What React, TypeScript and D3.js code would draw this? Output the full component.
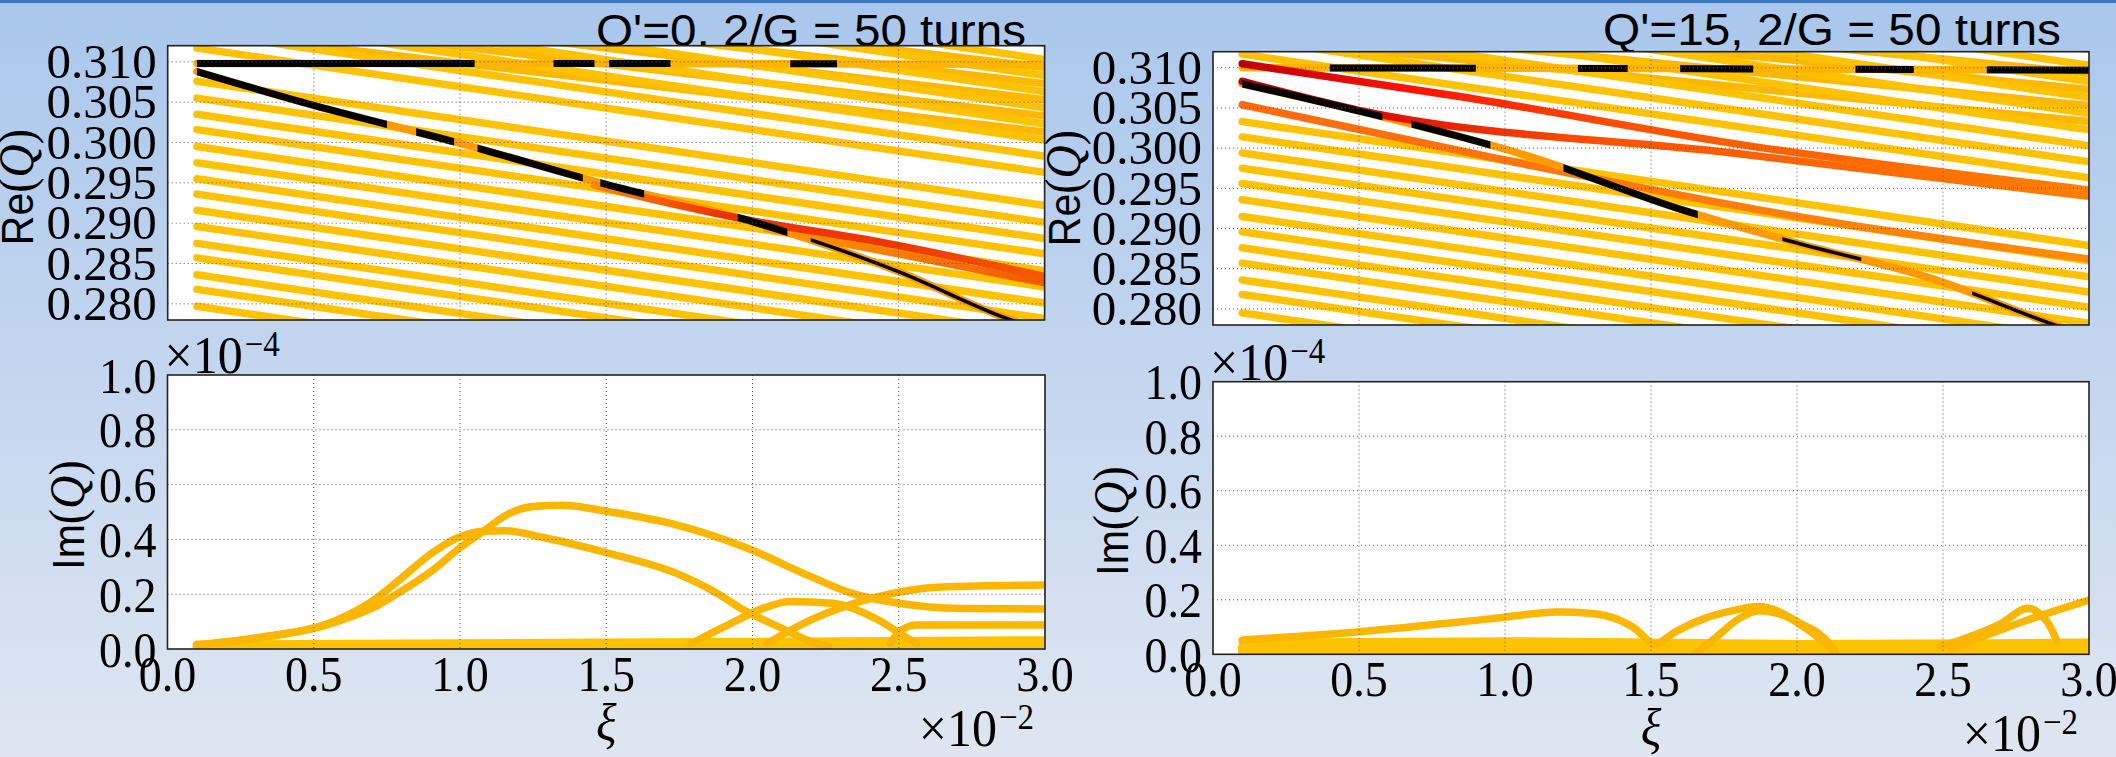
import React, { useEffect, useRef } from 'react';
import * as d3 from 'd3';

const W = 2116;
const H = 757;

// ---------- ticks ----------
const xiTicks = [0, 0.005, 0.01, 0.015, 0.02, 0.025, 0.03];
const reTicks = [0.28, 0.285, 0.29, 0.295, 0.3, 0.305, 0.31];
const imTicks = [0, 0.2, 0.4, 0.6, 0.8, 1.0];

const titleLeft = "Q'=0, 2/G = 50 turns";
const titleRight = "Q'=15, 2/G = 50 turns";

// ---------- top-left: Re(Q), Q'=0 ----------
const xiStartEnd = [0.001, 0.03];
const tlBandStart = [0.3277, 0.3257, 0.3237, 0.3217, 0.3197, 0.3177, 0.3157, 0.3137, 0.3117, 0.3076, 0.3055, 0.3035, 0.3016, 0.2995, 0.2975, 0.2955, 0.2936, 0.2916, 0.2896, 0.2875, 0.2857, 0.2836, 0.2818, 0.2797];
const tlBandEnd = [0.3123, 0.3103, 0.3083, 0.3063, 0.3043, 0.3023, 0.3003, 0.2983, 0.2963, 0.2922, 0.2901, 0.2881, 0.2862, 0.2841, 0.2821, 0.2801, 0.2782, 0.2762, 0.2742, 0.2721, 0.2703, 0.2682, 0.2664, 0.2643];
const tlUpperStart = [0.3137, 0.3157, 0.3177, 0.3197, 0.3217];
const tlUpperEnd = [0.3013, 0.3033, 0.3053, 0.3073, 0.3093];
const tlSigma = [[0.001, 0.3098], [0.015, 0.3098], [0.03, 0.3097]];
const tlSigmaBlack = [[0.001, 0.0105], [0.0132, 0.0146], [0.0151, 0.0172], [0.0213, 0.0229]];
const tlPi = [[0.001, 0.3088], [0.005, 0.3046], [0.01, 0.2999], [0.015, 0.2948], [0.02, 0.2902], [0.025, 0.284], [0.0287, 0.2782], [0.03, 0.2766]];
const tlPiBlack = [[0.001, 0.0075], [0.0085, 0.0098], [0.0106, 0.0142], [0.0148, 0.0163], [0.0195, 0.0212]];
const tlPiThin = [[0.022, 0.0296]];
const tlRed1 = [[0.0146, 0.2947], [0.0175, 0.2922], [0.0197, 0.2905], [0.0243, 0.2877], [0.03, 0.2834]];
const tlRed2 = [[0.0205, 0.2893], [0.025, 0.2862], [0.03, 0.2826]];

// ---------- top-right: Re(Q), Q'=15 ----------
const trBandStart = [0.3277, 0.3257, 0.3237, 0.3217, 0.3197, 0.3177, 0.3157, 0.3137, 0.3117, 0.3033, 0.3014, 0.2994, 0.2975, 0.2956, 0.2936, 0.2915, 0.2896, 0.2876, 0.2857, 0.2836, 0.2818, 0.2795];
const trBandEnd = [0.3123, 0.3103, 0.3083, 0.3063, 0.3043, 0.3023, 0.3003, 0.2983, 0.2963, 0.2879, 0.286, 0.284, 0.2821, 0.2802, 0.2782, 0.2761, 0.2742, 0.2722, 0.2703, 0.2682, 0.2664, 0.2641];
const trUpperStart = [0.3137, 0.3157, 0.3177, 0.3197];
const trUpperEnd = [0.3033, 0.3053, 0.3073, 0.3093];
const trSigma = [[0.001, 0.31], [0.015, 0.3099], [0.03, 0.3097]];
const trSigmaBlack = [[0.004, 0.009], [0.0125, 0.0142], [0.016, 0.0185], [0.022, 0.024], [0.0265, 0.03]];
const trPi = [[0.001, 0.308], [0.0049, 0.3047], [0.0108, 0.299], [0.0161, 0.2923], [0.02, 0.2882], [0.0246, 0.2838], [0.0286, 0.2783], [0.03, 0.2765]];
const trPiBlack = [[0.001, 0.0058], [0.0068, 0.0095], [0.012, 0.0166]];
const trPiThin = [[0.0195, 0.0222], [0.026, 0.0296]];
const trRed1 = [[0.001, 0.3105], [0.0085, 0.3064], [0.0178, 0.3006], [0.03, 0.2948]];
const trRed2 = [[0.001, 0.3083], [0.005, 0.3047], [0.0178, 0.2994], [0.03, 0.294]];
const trOrange = [[0.001, 0.3054], [0.01, 0.2985], [0.02, 0.2915], [0.03, 0.2862]];

// ---------- bottom-left: Im(Q) x1e-4, Q'=0 ----------
const blA = [[0.001, 0.015], [0.003, 0.038], [0.0058, 0.1], [0.0072, 0.16], [0.0079, 0.205], [0.0091, 0.29], [0.01, 0.37], [0.0108, 0.43], [0.0116, 0.49], [0.0125, 0.52], [0.0135, 0.525], [0.0151, 0.501], [0.0174, 0.453], [0.0197, 0.373], [0.022, 0.264], [0.0234, 0.203], [0.025, 0.167], [0.0271, 0.148], [0.03, 0.146]];
const blB = [[0.001, 0.015], [0.003, 0.04], [0.0058, 0.106], [0.0072, 0.19], [0.0079, 0.25], [0.0091, 0.355], [0.01, 0.41], [0.0108, 0.43], [0.0115, 0.432], [0.0128, 0.408], [0.0151, 0.349], [0.0174, 0.276], [0.0188, 0.203], [0.0197, 0.142], [0.0209, 0.081], [0.0222, 0.02], [0.0226, 0.01]];
const blC = [[0.0179, 0.02], [0.0192, 0.09], [0.0204, 0.15], [0.0213, 0.173], [0.0227, 0.167], [0.0243, 0.106], [0.0253, 0.039], [0.0256, 0.02]];
const blD = [[0.0205, 0.02], [0.022, 0.106], [0.0243, 0.191], [0.0266, 0.227], [0.03, 0.234]];
const blE = [[0.0247, 0.02], [0.0251, 0.07], [0.0256, 0.088], [0.03, 0.088]];
const blBase1 = [[0.001, 0.012], [0.03, 0.02]];
const blBase2 = [[0.001, 0.018], [0.03, 0.034]];

// ---------- bottom-right: Im(Q) x1e-4, Q'=15 ----------
const brG = [[0.001, 0.052], [0.005, 0.083], [0.0095, 0.13], [0.0118, 0.155], [0.013, 0.15], [0.0138, 0.13], [0.0145, 0.09], [0.0149, 0.05], [0.0151, 0.035], [0.0158, 0.08], [0.0168, 0.13], [0.0178, 0.16], [0.0187, 0.175], [0.0201, 0.114], [0.0211, 0.04], [0.0213, 0.01]];
const brH = [[0.0165, 0.0], [0.0172, 0.06], [0.018, 0.13], [0.0187, 0.16], [0.0196, 0.14], [0.0205, 0.08], [0.0212, 0.02]];
const brI = [[0.0249, 0.028], [0.027, 0.114], [0.0279, 0.169], [0.0284, 0.14], [0.0286, 0.114], [0.0289, 0.05]];
const brJ = [[0.0253, 0.02], [0.0279, 0.126], [0.03, 0.199]];
const brBase1 = [[0.001, 0.045], [0.01, 0.05], [0.02, 0.04], [0.03, 0.045]];
const brBase2 = [[0.001, 0.025], [0.03, 0.022]];
const brBase3 = [[0.001, 0.01], [0.03, 0.01]];

const YELLOW = '#ffc200';
const YELLOW2 = '#ffb800';
const GOLD = '#fbb600';
const ORANGE = '#ff9a00';
const BLACK = '#000000';

type Panel = { x0: number; x1: number; y0: number; y1: number; yDomain: [number, number] };
const TL: Panel = { x0: 167.7, x1: 1044.6, y0: 45.7, y1: 320, yDomain: [0.278, 0.312] };
const TR: Panel = { x0: 1213, x1: 2089, y0: 51.7, y1: 325, yDomain: [0.278, 0.312] };
const BL: Panel = { x0: 167.5, x1: 1045, y0: 375, y1: 649, yDomain: [0, 1.0] };
const BR: Panel = { x0: 1213, x1: 2089, y0: 381.7, y1: 654.3, yDomain: [0, 1.0] };

type Series = { pts: number[][]; color: string; w?: number; curve?: any; ranges?: number[][]; stops?: [number, string][] };

export default function App() {
  const ref = useRef<SVGSVGElement>(null);
  useEffect(() => {
    const svg = d3.select(ref.current);
    svg.selectAll('*').remove();
    const defs = svg.append('defs');
    const grad = defs.append('linearGradient').attr('id', 'bg').attr('x1', 0).attr('y1', 0).attr('x2', 0).attr('y2', 1);
    grad.append('stop').attr('offset', '0%').attr('stop-color', '#a9c7ec');
    grad.append('stop').attr('offset', '100%').attr('stop-color', '#dfe6f1');
    svg.append('rect').attr('width', W).attr('height', H).attr('fill', 'url(#bg)');
    svg.append('rect').attr('width', W).attr('height', 3).attr('fill', '#3b78c8');

    // titles (drawn before axes so the axes cover the descenders)
    svg.append('text').attr('x', 1026).attr('y', 45.5).attr('text-anchor', 'end')
      .attr('font-family', 'Liberation Sans, Arial, sans-serif').attr('font-size', 44)
      .attr('textLength', 430).attr('lengthAdjust', 'spacingAndGlyphs').text(titleLeft);
    svg.append('text').attr('x', 2061).attr('y', 44.5).attr('text-anchor', 'end')
      .attr('font-family', 'Liberation Sans, Arial, sans-serif').attr('font-size', 44)
      .attr('textLength', 458).attr('lengthAdjust', 'spacingAndGlyphs').text(titleRight);

    let uid = 0;
    function drawPanel(p: Panel, isRe: boolean, series: Series[]) {
      const x = d3.scaleLinear().domain([0, 0.03]).range([p.x0, p.x1]);
      const y = d3.scaleLinear().domain(p.yDomain).range([p.y1, p.y0]);
      const id = 'clip' + uid++;
      defs.append('clipPath').attr('id', id).append('rect')
        .attr('x', p.x0).attr('y', p.y0).attr('width', p.x1 - p.x0).attr('height', p.y1 - p.y0);
      svg.append('rect').attr('x', p.x0).attr('y', p.y0).attr('width', p.x1 - p.x0).attr('height', p.y1 - p.y0).attr('fill', '#fff');
      const g = svg.append('g').attr('clip-path', `url(#${id})`);
      for (const s of series) {
        const line = d3.line<number[]>().x(d => x(d[0])).y(d => y(d[1])).curve(s.curve || d3.curveMonotoneX);
        let stroke = s.color;
        if (s.stops) {
          const gid = 'lg' + uid++;
          const lg = defs.append('linearGradient').attr('id', gid).attr('gradientUnits', 'userSpaceOnUse')
            .attr('x1', p.x0).attr('x2', p.x1).attr('y1', 0).attr('y2', 0);
          for (const [xi, c] of s.stops) lg.append('stop').attr('offset', (x(xi) - p.x0) / (p.x1 - p.x0)).attr('stop-color', c);
          stroke = `url(#${gid})`;
        }
        const path = g.append('path').attr('d', line(s.pts)).attr('fill', 'none').attr('stroke', stroke)
          .attr('stroke-width', s.w || 7.5).attr('stroke-linecap', 'round').attr('stroke-linejoin', 'round');
        if (s.ranges) {
          const mid = 'm' + uid++;
          const cp = defs.append('clipPath').attr('id', mid);
          for (const r of s.ranges) {
            cp.append('rect').attr('x', x(r[0])).attr('y', p.y0).attr('width', x(r[1]) - x(r[0])).attr('height', p.y1 - p.y0);
          }
          const wrap = g.append('g').attr('clip-path', `url(#${mid})`);
          wrap.node()!.appendChild(path.node()!);
        }
      }
      // grid
      const yt = isRe ? reTicks : imTicks;
      for (const t of xiTicks.slice(1, -1)) {
        svg.append('line').attr('x1', x(t)).attr('x2', x(t)).attr('y1', p.y0).attr('y2', p.y1)
          .attr('stroke', '#555').attr('stroke-width', 1).attr('stroke-dasharray', '1,3');
      }
      for (const t of yt) {
        if (y(t) <= p.y0 + 1 || y(t) >= p.y1 - 1) continue;
        svg.append('line').attr('x1', p.x0).attr('x2', p.x1).attr('y1', y(t)).attr('y2', y(t))
          .attr('stroke', '#555').attr('stroke-width', 1).attr('stroke-dasharray', '1,3');
      }
      // frame
      svg.append('rect').attr('x', p.x0).attr('y', p.y0).attr('width', p.x1 - p.x0).attr('height', p.y1 - p.y0)
        .attr('fill', 'none').attr('stroke', '#222').attr('stroke-width', 1.6);
      // y tick labels
      const fmt = isRe ? d3.format('.3f') : d3.format('.1f');
      const sy = isRe ? 0.97 : 1.12;
      const fs = isRe ? 49 : 46;
      for (const t of yt) {
        svg.append('text').attr('transform', `translate(${p.x0 - 11},${y(t)}) scale(1,${sy})`)
          .attr('text-anchor', 'end').attr('dy', '0.34em')
          .attr('font-family', 'Liberation Serif, serif').attr('font-size', fs).text(fmt(t));
      }
      if (!isRe) {
        const xf = d3.format('.1f');
        for (const t of xiTicks) {
          svg.append('text').attr('transform', `translate(${x(t)},${p.y1 + 42}) scale(1,1.12)`)
            .attr('text-anchor', 'middle')
            .attr('font-family', 'Liberation Serif, serif').attr('font-size', 46).text(xf(t * 100));
        }
        const e4 = svg.append('text').attr('transform', `translate(${p.x0 - 3},${p.y0 - 2}) scale(1,1.06)`)
          .attr('font-family', 'Liberation Serif, serif').attr('font-size', 50);
        e4.append('tspan').text('×10');
        e4.append('tspan').attr('font-size', 33).attr('dx', 2).attr('dy', -16).text('−4');
        const e2 = svg.append('text').attr('transform', `translate(${p.x1 - 11},${p.y1 + 97}) scale(1,1.06)`)
          .attr('text-anchor', 'end')
          .attr('font-family', 'Liberation Serif, serif').attr('font-size', 50);
        e2.append('tspan').text('×10');
        e2.append('tspan').attr('font-size', 33).attr('dx', 2).attr('dy', -16).text('−2');
        svg.append('text').attr('transform', `translate(${(p.x0 + p.x1) / 2},${p.y1 + 91}) scale(1,1.12)`)
          .attr('text-anchor', 'middle').attr('font-style', 'italic')
          .attr('font-family', 'Liberation Serif, serif').attr('font-size', 48).text('ξ');
      }
    }

    function yLabel(cx: number, cy: number, word: string, sx: number) {
      const t = svg.append('text').attr('transform', `translate(${cx},${cy}) rotate(-90) scale(1,${sx})`)
        .attr('text-anchor', 'middle');
      t.append('tspan').attr('font-family', 'Liberation Sans, Arial, sans-serif').attr('font-size', 41).text(word);
      t.append('tspan').attr('font-family', 'Liberation Serif, serif').attr('font-size', 46).text('(');
      t.append('tspan').attr('font-family', 'Liberation Serif, serif').attr('font-style', 'italic').attr('font-size', 46).text('Q');
      t.append('tspan').attr('font-family', 'Liberation Serif, serif').attr('font-size', 46).text(')');
    }

    const band = (starts: number[], ends: number[], color: string) =>
      starts.map((s, i) => ({ pts: [[xiStartEnd[0], s], [xiStartEnd[1], ends[i]]], color, curve: d3.curveLinear }));

    drawPanel(TL, true, [
      ...band(tlUpperStart, tlUpperEnd, YELLOW2),
      ...band(tlBandStart, tlBandEnd, YELLOW),
      { pts: tlSigma, color: '#ffb400' },
      { pts: tlSigma, color: BLACK, ranges: tlSigmaBlack, w: 7 },
      { pts: tlPi, color: ORANGE },
      { pts: tlRed2, color: '#fb7a0a', stops: [[0.02, '#ff9a00'], [0.03, '#f45a00']] },
      { pts: tlRed1, color: '#e83000', stops: [[0.0146, '#ff8a00'], [0.019, '#f03000'], [0.025, '#f03800'], [0.03, '#f65a00']] },
      { pts: tlPi, color: BLACK, ranges: tlPiBlack, w: 7 },
      { pts: tlPi, color: BLACK, ranges: tlPiThin, w: 3.5 },
    ]);
    drawPanel(TR, true, [
      ...band(trUpperStart, trUpperEnd, YELLOW2),
      ...band(trBandStart, trBandEnd, YELLOW),
      { pts: trSigma, color: '#ffb400' },
      { pts: trSigma, color: BLACK, ranges: trSigmaBlack, w: 7 },
      { pts: trOrange, color: '#ff7a10', stops: [[0.001, '#ff6a10'], [0.03, '#ff8c00']] },
      { pts: trPi, color: ORANGE },
      { pts: trRed2, color: '#f04a00', stops: [[0.001, '#b00000'], [0.006, '#e01000'], [0.013, '#ff5000'], [0.03, '#ff7f00']] },
      { pts: trRed1, color: '#e83000', stops: [[0.001, '#c00000'], [0.007, '#ff1500'], [0.015, '#ff5500'], [0.03, '#ff8000']] },
      { pts: trPi, color: BLACK, ranges: trPiBlack, w: 7 },
      { pts: trPi, color: BLACK, ranges: trPiThin, w: 3.5 },
    ]);
    drawPanel(BL, false, [
      { pts: blBase1, color: YELLOW, w: 9 },
      { pts: blBase2, color: YELLOW, w: 7 },
      { pts: blA, color: GOLD },
      { pts: blB, color: GOLD },
      { pts: blC, color: GOLD },
      { pts: blD, color: GOLD },
      { pts: blE, color: GOLD },
    ]);
    drawPanel(BR, false, [
      { pts: brBase3, color: YELLOW, w: 9 },
      { pts: brBase2, color: YELLOW, w: 9 },
      { pts: brBase1, color: YELLOW, w: 7 },
      { pts: brG, color: GOLD },
      { pts: brH, color: GOLD },
      { pts: brI, color: GOLD },
      { pts: brJ, color: GOLD },
    ]);

    yLabel(33, 187, 'Re', 1.08);
    yLabel(1080, 188, 'Re', 1.08);
    yLabel(84, 515, 'Im', 1.08);
    yLabel(1128, 521, 'Im', 1.08);
  }, []);
  return (
    <svg ref={ref} width={W} height={H} style={{ position: 'absolute', left: 0, top: 0, display: 'block' }} />
  );
}
